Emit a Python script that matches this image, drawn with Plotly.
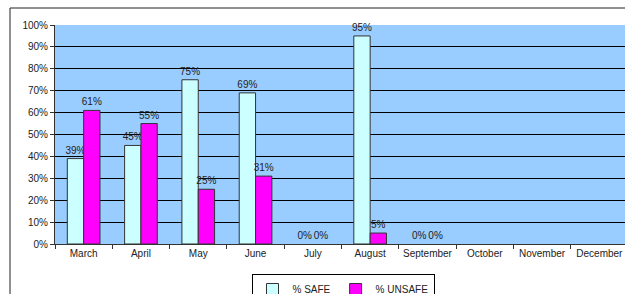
import plotly.graph_objects as go

months = ["March", "April", "May", "June", "July", "August", "September",
          "October", "November", "December"]
safe = [39, 45, 75, 69, 0, 95, 0, None, None, None]
unsafe = [61, 55, 25, 31, 0, 5, 0, None, None, None]
y_ticks = [0, 10, 20, 30, 40, 50, 60, 70, 80, 90, 100]
y_tick_labels = [f"{v}%" for v in y_ticks]

def labels(vals):
    return [f"{v}%" if v is not None else "" for v in vals]

W, H = 625, 294
L, T = 55, 25
PLOT_BOTTOM = 244
R, B = 0, H - PLOT_BOTTOM
pw, ph = W - L - R, H - T - B
FONT = "Liberation Sans, Arial"
CAT_PX = 57.3

fig = go.Figure()
for name, vals, color in [("% SAFE", safe, "#CCFFFF"), ("% UNSAFE", unsafe, "#FF00FF")]:
    fig.add_trace(go.Bar(
        x=months, y=vals, name=name, text=labels(vals),
        textposition="outside", cliponaxis=False, constraintext="none",
        textangle=0,
        marker=dict(color=color,
                    line=dict(color="#333333",
                              width=[1 if v else 0 for v in vals])),
        textfont=dict(size=10, color="#222222", family=FONT),
    ))

def px_x(px):
    return (px - L) / pw

def px_y(py):
    return (PLOT_BOTTOM - py) / ph

fig.update_layout(
    width=W, height=H,
    margin=dict(l=L, r=R, t=T, b=B, pad=0, autoexpand=False),
    paper_bgcolor="white",
    plot_bgcolor="#99CCFF",
    barmode="group", bargap=0.43, bargroupgap=0,
    font=dict(family=FONT, size=10, color="#222222"),
    showlegend=True,
    legend=dict(orientation="h", x=px_x(343), xanchor="center",
                y=px_y(274), yanchor="top",
                bordercolor="#000000", borderwidth=1,
                font=dict(size=10), itemwidth=30,
                tracegroupgap=0,
                traceorder="normal", bgcolor="white"),
    xaxis=dict(range=[-0.5, -0.5 + pw / CAT_PX], showgrid=False,
               ticks="outside", tickson="boundaries", ticklen=4,
               tickcolor="#333333", showline=True, linecolor="#333333",
               linewidth=1, tickfont=dict(size=10), tickangle=0,
               automargin=False),
    yaxis=dict(range=[0, 100], tickvals=y_ticks, ticktext=y_tick_labels,
               showgrid=True, gridcolor="#000000", gridwidth=1,
               ticks="outside", ticklen=4, tickcolor="#333333",
               showline=True, linecolor="#333333", linewidth=1,
               zeroline=False, tickfont=dict(size=10), automargin=False),
    shapes=[dict(type="rect", xref="paper", yref="paper",
                 x0=px_x(10), x1=px_x(700), y0=px_y(320), y1=px_y(8),
                 line=dict(color="#222222", width=1), layer="below")],
)

fig.write_html(
    "out.html",
    config={"displayModeBar": False},
    post_script="document.body.style.margin='0';document.body.style.overflow='hidden';",
)
